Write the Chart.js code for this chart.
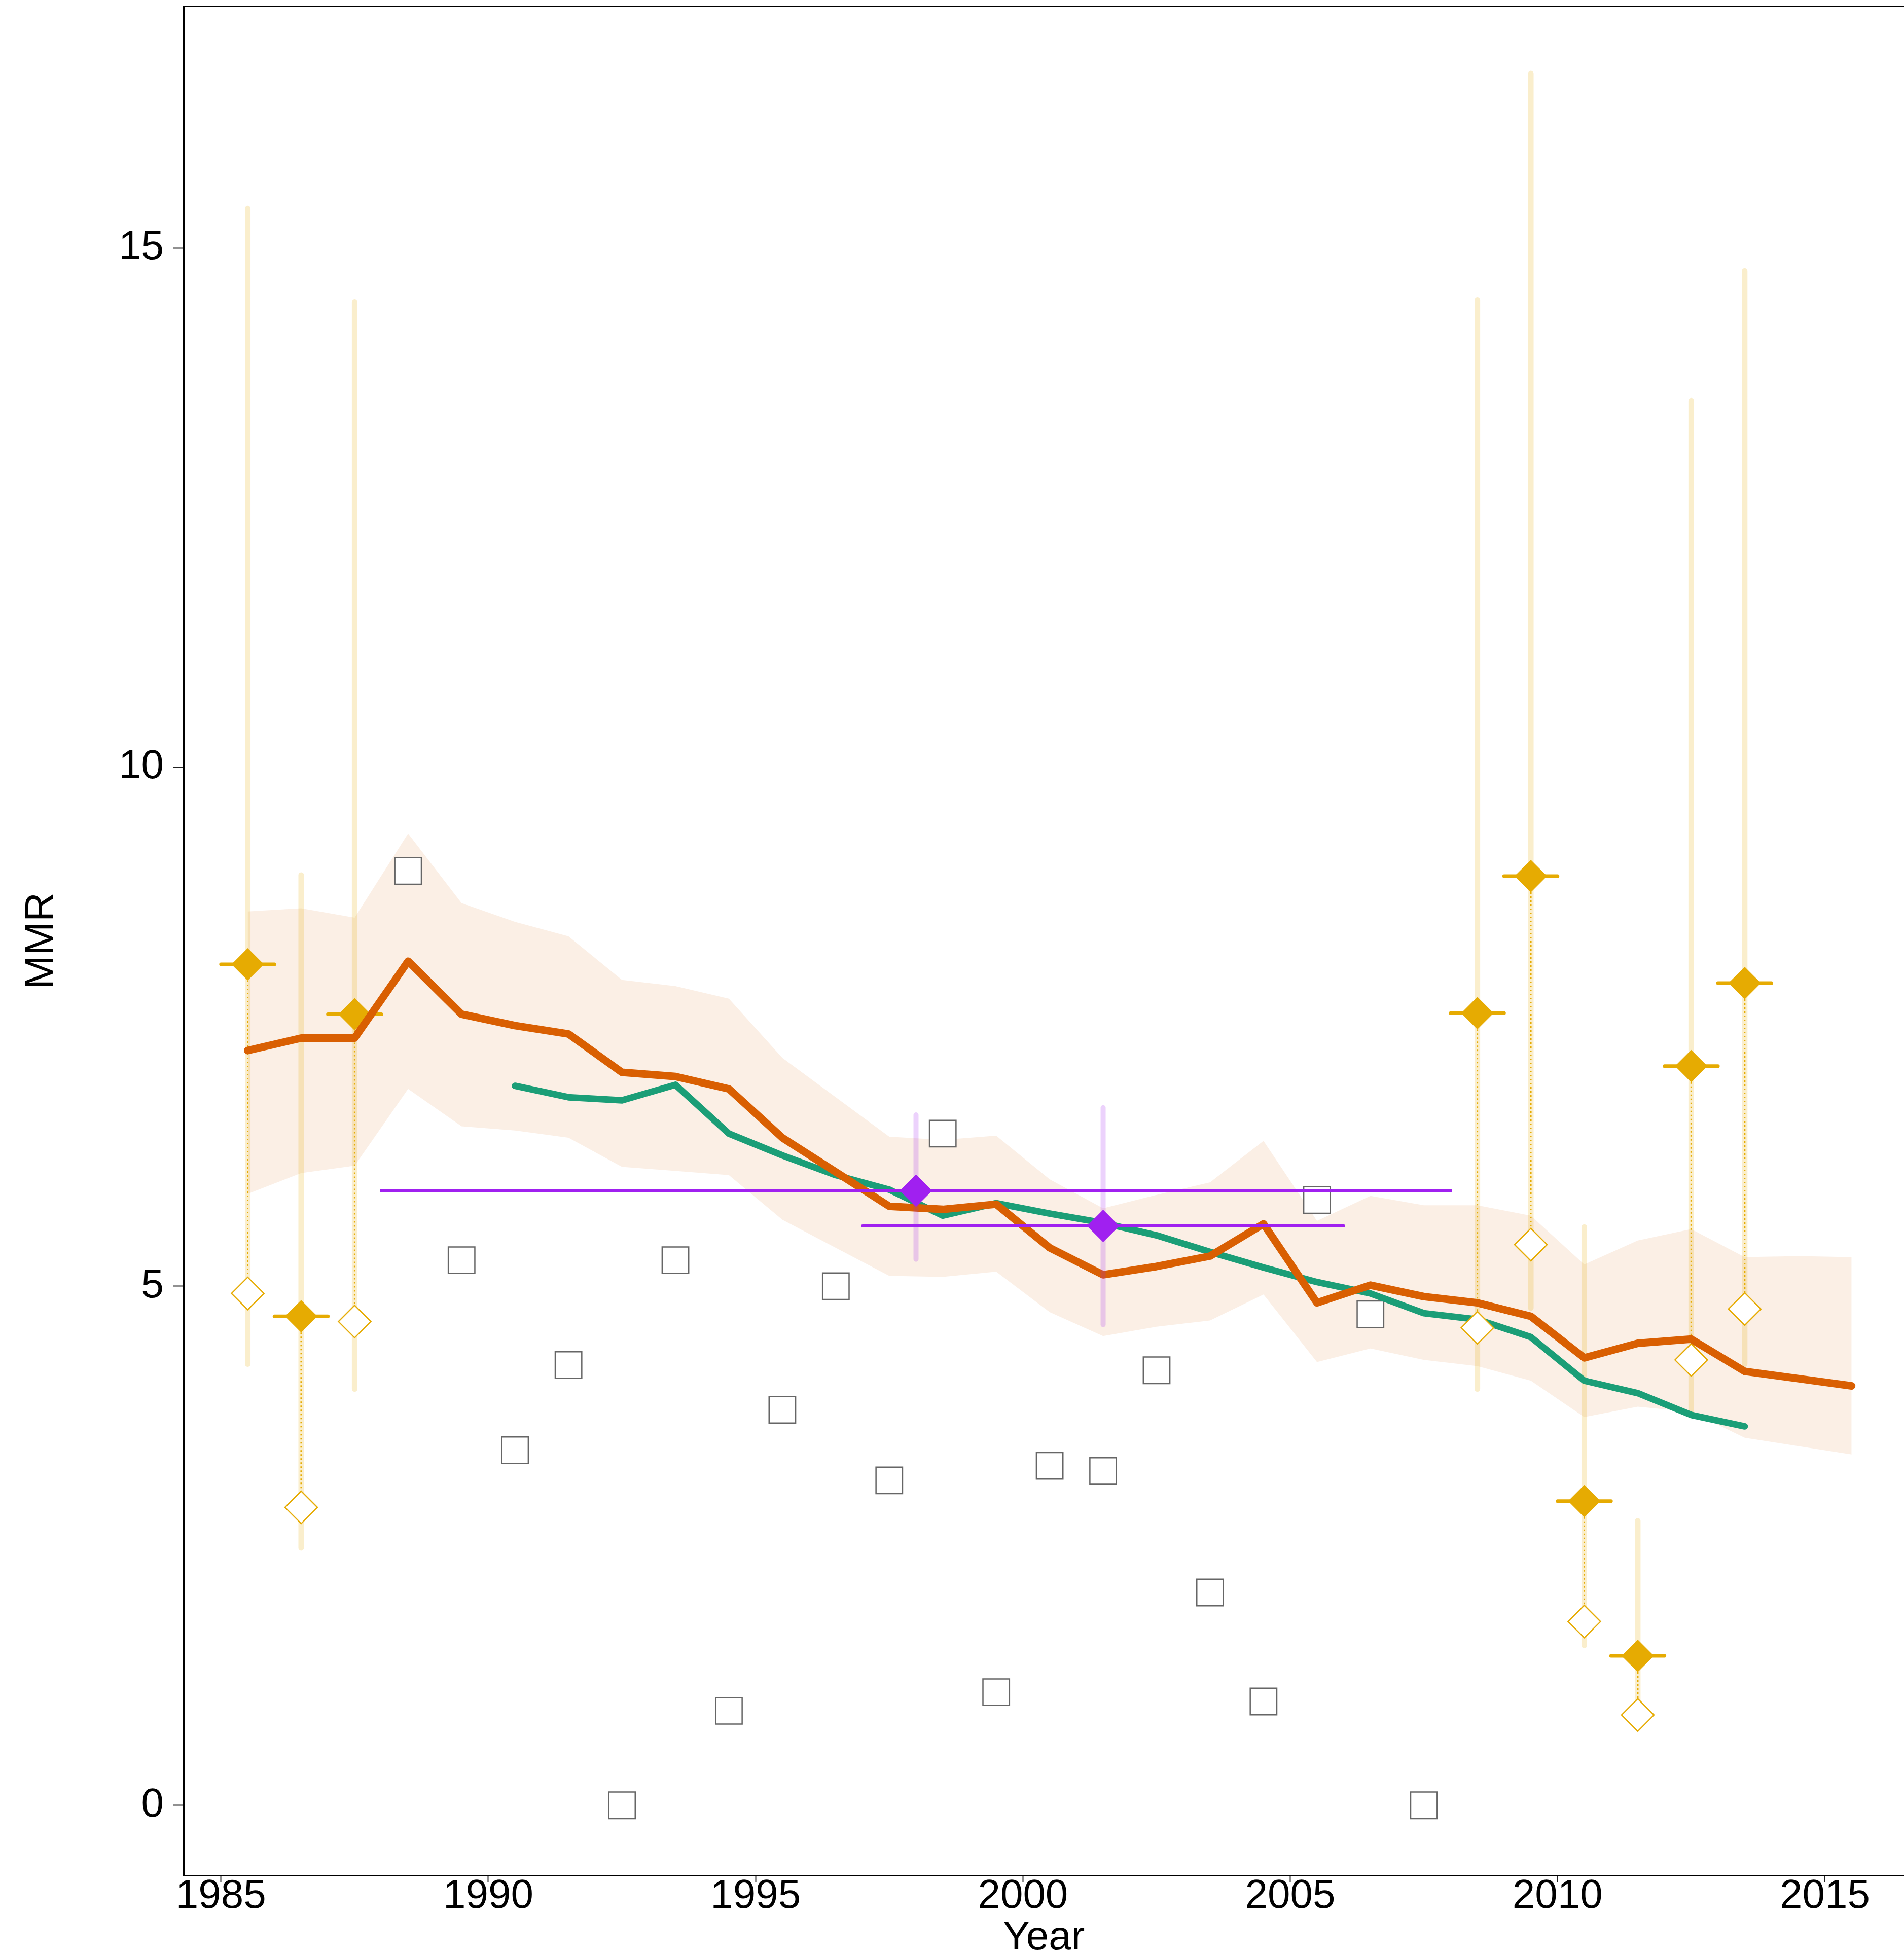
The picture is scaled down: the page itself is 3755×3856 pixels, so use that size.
<!DOCTYPE html>
<html>
<head>
<meta charset="utf-8">
<title>MMR</title>
<script src="https://cdn.jsdelivr.net/npm/chart.js@4.4.1/dist/chart.umd.min.js"></script>
<style>
  html, body { margin: 0; padding: 0; background: #fff; }
  canvas { display: block; }
</style>
</head>
<body>
<canvas id="mmrChart" width="3755" height="3856"></canvas>
<script>
// model estimate (orange) with its uncertainty band
const years = [1985.5, 1986.5, 1987.5, 1988.5, 1989.5, 1990.5, 1991.5, 1992.5, 1993.5, 1994.5,
  1995.5, 1996.5, 1997.5, 1998.5, 1999.5, 2000.5, 2001.5, 2002.5, 2003.5, 2004.5,
  2005.5, 2006.5, 2007.5, 2008.5, 2009.5, 2010.5, 2011.5, 2012.5, 2013.5, 2014.5, 2015.5];
const estimate = [7.27, 7.39, 7.39, 8.13, 7.62, 7.51, 7.43, 7.06, 7.02, 6.90,
  6.43, 6.10, 5.77, 5.74, 5.79, 5.37, 5.11, 5.19, 5.29, 5.60,
  4.84, 5.01, 4.90, 4.84, 4.71, 4.31, 4.45, 4.49, 4.18, 4.11, 4.04];
const estimateUpper = [8.61, 8.64, 8.55, 9.36, 8.69, 8.51, 8.37, 7.95, 7.89, 7.77,
  7.20, 6.82, 6.44, 6.41, 6.45, 6.03, 5.75, 5.88, 6.00, 6.40,
  5.63, 5.87, 5.78, 5.78, 5.68, 5.21, 5.44, 5.55, 5.28, 5.29, 5.28];
const estimateLower = [5.89, 6.09, 6.16, 6.90, 6.54, 6.50, 6.43, 6.15, 6.11, 6.07,
  5.64, 5.37, 5.10, 5.09, 5.14, 4.75, 4.52, 4.61, 4.67, 4.92,
  4.27, 4.40, 4.29, 4.23, 4.09, 3.74, 3.84, 3.79, 3.54, 3.46, 3.38];

// second estimate (green)
const trendYears = [1990.5, 1991.5, 1992.5, 1993.5, 1994.5, 1995.5, 1996.5, 1997.5, 1998.5, 1999.5,
  2000.5, 2001.5, 2002.5, 2003.5, 2004.5, 2005.5, 2006.5, 2007.5, 2008.5, 2009.5,
  2010.5, 2011.5, 2012.5, 2013.5];
const trend = [6.93, 6.82, 6.79, 6.94, 6.47, 6.26, 6.07, 5.93, 5.68, 5.80,
  5.70, 5.61, 5.49, 5.33, 5.18, 5.04, 4.93, 4.74, 4.68, 4.51,
  4.09, 3.97, 3.76, 3.65];

// study data (gold): adjusted (filled) and observed (open) values
const studyYears = [1985.5, 1986.5, 1987.5, 2008.5, 2009.5, 2010.5, 2011.5, 2012.5, 2013.5];
const studyAdjusted = [8.10, 4.71, 7.62, 7.63, 8.95, 2.93, 1.44, 7.12, 7.92];
const studyObserved = [4.93, 2.87, 4.66, 4.60, 5.40, 1.77, 0.87, 4.29, 4.78];
const studyLower = [4.25, 2.48, 4.01, 4.01, 4.79, 1.54, 0.90, 3.76, 4.25];
const studyUpper = [15.38, 8.96, 14.48, 14.50, 16.68, 5.57, 2.74, 13.53, 14.78];

// surveys (purple) covering several years
const surveyYears = [1998.0, 2001.5];
const surveyValues = [5.92, 5.58];
const surveyStart = [1988.0, 1997.0];
const surveyEnd = [2008.0, 2006.0];
const surveyLower = [5.26, 4.63];
const surveyUpper = [6.65, 6.72];

// vital registration (grey squares)
const registryYears = [1988.5, 1989.5, 1990.5, 1991.5, 1992.5, 1993.5, 1994.5, 1995.5, 1996.5, 1997.5,
  1998.5, 1999.5, 2000.5, 2001.5, 2002.5, 2003.5, 2004.5, 2005.5, 2006.5, 2007.5];
const registryValues = [9.00, 5.25, 3.42, 4.24, 0.00, 5.25, 0.91, 3.81, 5.00, 3.13,
  6.47, 1.09, 3.27, 3.22, 4.19, 2.05, 1.00, 5.83, 4.73, 0.00];

const xTicks = [1985, 1990, 1995, 2000, 2005, 2010, 2015];
const yTicks = [0, 5, 10, 15];

const GOLD = "#E6AB02";
const ORANGE = "#D95F02";
const GREEN = "#1B9E77";
const PURPLE = "#A020F0";
const FONT = "Liberation Sans, Arial, sans-serif";

const pts = (xs, ys) => xs.map((x, i) => ({ x: x, y: ys[i] }));

// join [x1, y1, x2, y2] pieces into one dataset, broken by gaps
const segments = (pieces) => {
  const out = [];
  pieces.forEach((p) => {
    out.push({ x: p[0], y: p[1] }, { x: p[2], y: p[3] }, { x: p[2], y: null });
  });
  return out;
};

const studyBars = segments(studyYears.map((x, i) => [x, studyLower[i], x, studyUpper[i]]));
const studyLinks = segments(studyYears.map((x, i) => [x, studyAdjusted[i], x, studyObserved[i]]));
const studyWidths = segments(studyYears.map((x, i) => [x - 0.5, studyAdjusted[i], x + 0.5, studyAdjusted[i]]));
const surveyBars = segments(surveyYears.map((x, i) => [x, surveyLower[i], x, surveyUpper[i]]));
const surveySpans = segments(surveyYears.map((x, i) => [surveyStart[i], surveyValues[i], surveyEnd[i], surveyValues[i]]));

const noPoints = { pointRadius: 0, pointHoverRadius: 0 };

// keep the plot panel where the reference has it
const noEdgePadding = (scale) => {
  scale.paddingTop = 0;
  scale.paddingBottom = 0;
  scale.paddingLeft = 0;
  scale.paddingRight = 0;
};

const whiteBg = {
  id: "whiteBg",
  beforeDraw(chart) {
    const ctx = chart.ctx;
    ctx.save();
    ctx.fillStyle = "#fff";
    ctx.fillRect(0, 0, chart.width, chart.height);
    ctx.restore();
  },
};

// ggplot style top frame line
const topFrame = {
  id: "topFrame",
  afterDraw(chart) {
    const { ctx, chartArea } = chart;
    ctx.save();
    ctx.strokeStyle = "#000";
    ctx.lineWidth = 2;
    ctx.beginPath();
    ctx.moveTo(chartArea.left, chartArea.top);
    ctx.lineTo(chartArea.right, chartArea.top);
    ctx.stroke();
    ctx.restore();
  },
};

const chart = new Chart(document.getElementById("mmrChart").getContext("2d"), {
  type: "line",
  data: {
    datasets: [
      {
        data: pts(years, estimateUpper),
        fill: "+1",
        backgroundColor: "rgba(217, 95, 2, 0.1)",
        borderColor: "rgba(0, 0, 0, 0)",
        borderWidth: 0,
        order: 20,
        ...noPoints,
      },
      {
        data: pts(years, estimateLower),
        fill: false,
        borderColor: "rgba(0, 0, 0, 0)",
        borderWidth: 0,
        order: 19,
        ...noPoints,
      },
      {
        data: studyBars,
        borderColor: "rgba(230, 171, 2, 0.2)",
        borderWidth: 11,
        borderCapStyle: "round",
        order: 18,
        ...noPoints,
      },
      {
        data: pts(registryYears, registryValues),
        showLine: false,
        pointStyle: "rect",
        pointRadius: 37,
        pointBorderWidth: 2.5,
        pointBorderColor: "#666666",
        pointBackgroundColor: "#ffffff",
        order: 17,
      },
      {
        data: pts(trendYears, trend),
        borderColor: GREEN,
        borderWidth: 13,
        borderCapStyle: "round",
        borderJoinStyle: "round",
        order: 16,
        ...noPoints,
      },
      {
        data: studyLinks,
        borderColor: GOLD,
        borderWidth: 3,
        borderDash: [3, 5],
        order: 15,
        ...noPoints,
      },
      {
        data: studyWidths,
        borderColor: GOLD,
        borderWidth: 7,
        borderCapStyle: "round",
        order: 14,
        ...noPoints,
      },
      {
        data: pts(studyYears, studyObserved),
        showLine: false,
        pointStyle: "rectRot",
        pointRadius: 32,
        pointBorderWidth: 2.5,
        pointBorderColor: GOLD,
        pointBackgroundColor: "#ffffff",
        order: 13,
      },
      {
        data: pts(studyYears, studyAdjusted),
        showLine: false,
        pointStyle: "rectRot",
        pointRadius: 32,
        pointBorderWidth: 0,
        pointBorderColor: GOLD,
        pointBackgroundColor: GOLD,
        order: 12,
      },
      {
        data: pts(years, estimate),
        borderColor: ORANGE,
        borderWidth: 15,
        borderCapStyle: "round",
        borderJoinStyle: "round",
        order: 11,
        ...noPoints,
      },
      {
        data: surveyBars,
        borderColor: "rgba(160, 32, 240, 0.2)",
        borderWidth: 10,
        borderCapStyle: "round",
        order: 10,
        ...noPoints,
      },
      {
        data: surveySpans,
        borderColor: PURPLE,
        borderWidth: 6,
        borderCapStyle: "round",
        order: 9,
        ...noPoints,
      },
      {
        data: pts(surveyYears, surveyValues),
        showLine: false,
        pointStyle: "rectRot",
        pointRadius: 32,
        pointBorderWidth: 0,
        pointBorderColor: PURPLE,
        pointBackgroundColor: PURPLE,
        order: 8,
      },
    ],
  },
  options: {
    responsive: false,
    devicePixelRatio: 1,
    animation: false,
    events: [],
    layout: { autoPadding: false, padding: { top: 12, right: 0, bottom: 0, left: 0 } },
    plugins: {
      legend: { display: false },
      tooltip: { enabled: false },
    },
    scales: {
      x: {
        type: "linear",
        min: 1984.3,
        max: 2016.48,
        grid: { drawOnChartArea: false, tickLength: 13, tickWidth: 2, tickColor: "#222" },
        border: { display: true, color: "#000", width: 3 },
        ticks: {
          autoSkip: false,
          maxRotation: 0,
          padding: -11,
          color: "#000",
          font: { family: FONT, size: 80, lineHeight: 1 },
          callback: (v) => String(v),
        },
        afterBuildTicks: (scale) => {
          scale.ticks = xTicks.map((v) => ({ value: v }));
        },
        afterFit: (scale) => {
          scale.height = 157;
          noEdgePadding(scale);
        },
        title: {
          display: true,
          text: "Year",
          color: "#000",
          font: { family: FONT, size: 80, lineHeight: 1 },
          padding: { top: 0, bottom: -7 },
        },
      },
      y: {
        type: "linear",
        min: -0.675,
        max: 17.33,
        grid: { drawOnChartArea: false, tickLength: 20, tickWidth: 2, tickColor: "#222" },
        border: { display: true, color: "#000", width: 3 },
        ticks: {
          padding: 19,
          color: "#000",
          font: { family: FONT, size: 80, lineHeight: 1 },
          callback: (v) => String(v),
        },
        afterBuildTicks: (scale) => {
          scale.ticks = yTicks.map((v) => ({ value: v }));
        },
        afterFit: (scale) => {
          scale.width = 362;
          noEdgePadding(scale);
        },
        title: {
          display: true,
          text: "MMR",
          color: "#000",
          font: { family: FONT, size: 80, lineHeight: 1 },
          padding: { top: 43, bottom: 0 },
        },
      },
    },
  },
  plugins: [whiteBg, topFrame],
});
</script>
</body>
</html>
